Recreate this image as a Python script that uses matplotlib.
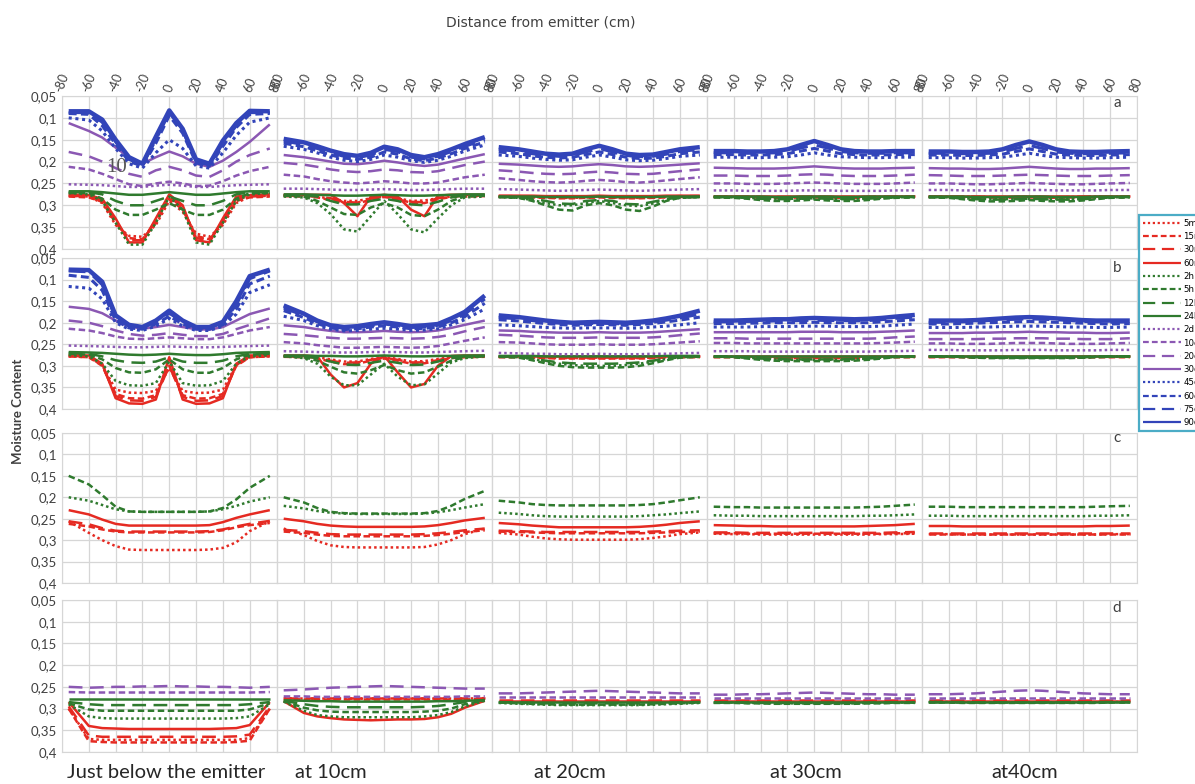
import matplotlib.pyplot as plt
from matplotlib.lines import Line2D

# positions along the profile (cm)
X = [-75, -60, -50, -40, -30, -20, -10, 0, 10, 20, 30, 40, 50, 60, 75]

LABELS = ["5min", "15min", "30min", "60min", "2h", "5h", "12h", "24h",
          "2d", "10d", "20d", "30d", "45d", "60d", "75d", "90d"]
GROUP_COLORS = ["#e52a22", "#2f7a2e", "#8b58b3", "#3244b9"]
DASHES = [(0, (1, 1.2)), (0, (2.6, 1.4)), (0, (5.5, 3)), "-"]

COLUMN_TITLES = ["Just below the emitter", "at 10cm", "at 20cm", "at 30cm", "at40cm"]
ROW_TAGS = ["a", "b", "c", "d"]
Y_TICKS = [0.05, 0.1, 0.15, 0.2, 0.25, 0.3, 0.35, 0.4]
Y_TICK_LABELS = ["0,05", "0,1", "0,15", "0,2", "0,25", "0,3", "0,35", "0,4"]
X_TICKS = [-80, -60, -40, -20, 0, 20, 40, 60, 80]

# ---- row a ----
a1 = {
    "5min":  [0.278, 0.280, 0.295, 0.345, 0.370, 0.372, 0.345, 0.290, 0.315, 0.365, 0.372, 0.345, 0.295, 0.280, 0.278],
    "15min": [0.280, 0.282, 0.292, 0.340, 0.375, 0.378, 0.340, 0.285, 0.310, 0.370, 0.378, 0.340, 0.290, 0.282, 0.280],
    "30min": [0.278, 0.280, 0.290, 0.335, 0.380, 0.380, 0.335, 0.280, 0.305, 0.375, 0.380, 0.335, 0.285, 0.280, 0.278],
    "60min": [0.275, 0.277, 0.285, 0.330, 0.385, 0.385, 0.330, 0.275, 0.300, 0.380, 0.385, 0.330, 0.280, 0.277, 0.275],
    "2h":    [0.272, 0.275, 0.290, 0.340, 0.390, 0.390, 0.340, 0.280, 0.310, 0.385, 0.390, 0.340, 0.290, 0.275, 0.272],
    "5h":    [0.272, 0.272, 0.285, 0.310, 0.322, 0.322, 0.310, 0.295, 0.310, 0.322, 0.322, 0.310, 0.285, 0.272, 0.272],
    "12h":   [0.270, 0.270, 0.275, 0.290, 0.300, 0.300, 0.290, 0.280, 0.290, 0.300, 0.300, 0.290, 0.275, 0.270, 0.270],
    "24h":   [0.268, 0.268, 0.270, 0.273, 0.276, 0.276, 0.273, 0.270, 0.273, 0.276, 0.276, 0.273, 0.270, 0.268, 0.268],
    "2d":    [0.252, 0.253, 0.254, 0.256, 0.258, 0.258, 0.255, 0.253, 0.255, 0.258, 0.258, 0.256, 0.254, 0.253, 0.252],
    "10d":   [0.212, 0.218, 0.228, 0.240, 0.252, 0.256, 0.250, 0.246, 0.250, 0.256, 0.255, 0.245, 0.232, 0.222, 0.212],
    "20d":   [0.178, 0.188, 0.200, 0.215, 0.228, 0.235, 0.220, 0.212, 0.220, 0.232, 0.235, 0.220, 0.200, 0.185, 0.170],
    "30d":   [0.112, 0.130, 0.145, 0.168, 0.190, 0.205, 0.190, 0.177, 0.188, 0.205, 0.212, 0.198, 0.178, 0.155, 0.115],
    "45d":   [0.100, 0.105, 0.130, 0.170, 0.205, 0.215, 0.180, 0.150, 0.170, 0.210, 0.215, 0.180, 0.140, 0.110, 0.100],
    "60d":   [0.090, 0.092, 0.118, 0.160, 0.200, 0.210, 0.158, 0.095, 0.135, 0.203, 0.210, 0.165, 0.122, 0.092, 0.090],
    "75d":   [0.088, 0.088, 0.110, 0.155, 0.195, 0.208, 0.150, 0.088, 0.128, 0.200, 0.208, 0.158, 0.118, 0.088, 0.088],
    "90d":   [0.085, 0.085, 0.104, 0.150, 0.190, 0.205, 0.143, 0.083, 0.125, 0.195, 0.205, 0.152, 0.112, 0.084, 0.085],
}

a2 = {
    "5min":  [0.277, 0.278, 0.280, 0.285, 0.290, 0.290, 0.284, 0.279, 0.284, 0.290, 0.289, 0.284, 0.280, 0.278, 0.277],
    "15min": [0.279, 0.280, 0.282, 0.288, 0.295, 0.296, 0.287, 0.281, 0.286, 0.294, 0.295, 0.286, 0.281, 0.280, 0.279],
    "30min": [0.278, 0.278, 0.280, 0.284, 0.292, 0.294, 0.285, 0.279, 0.284, 0.292, 0.293, 0.284, 0.279, 0.278, 0.278],
    "60min": [0.276, 0.276, 0.276, 0.276, 0.295, 0.325, 0.280, 0.276, 0.280, 0.310, 0.325, 0.278, 0.276, 0.276, 0.276],
    "2h":    [0.280, 0.282, 0.295, 0.320, 0.355, 0.360, 0.325, 0.290, 0.320, 0.355, 0.362, 0.330, 0.300, 0.282, 0.280],
    "5h":    [0.278, 0.280, 0.290, 0.305, 0.320, 0.322, 0.305, 0.295, 0.305, 0.322, 0.325, 0.310, 0.290, 0.280, 0.278],
    "12h":   [0.277, 0.277, 0.280, 0.290, 0.298, 0.298, 0.290, 0.285, 0.290, 0.298, 0.300, 0.292, 0.282, 0.277, 0.277],
    "24h":   [0.275, 0.275, 0.276, 0.277, 0.278, 0.278, 0.277, 0.276, 0.277, 0.278, 0.278, 0.277, 0.276, 0.275, 0.275],
    "2d":    [0.262, 0.262, 0.263, 0.264, 0.265, 0.265, 0.264, 0.263, 0.264, 0.265, 0.265, 0.264, 0.263, 0.262, 0.262],
    "10d":   [0.230, 0.234, 0.240, 0.245, 0.248, 0.250, 0.248, 0.245, 0.247, 0.250, 0.250, 0.248, 0.242, 0.236, 0.230],
    "20d":   [0.203, 0.207, 0.212, 0.218, 0.222, 0.224, 0.222, 0.218, 0.220, 0.224, 0.225, 0.222, 0.215, 0.208, 0.200],
    "30d":   [0.185, 0.190, 0.195, 0.200, 0.205, 0.206, 0.203, 0.198, 0.202, 0.207, 0.210, 0.207, 0.200, 0.193, 0.183],
    "45d":   [0.165, 0.172, 0.180, 0.190, 0.197, 0.200, 0.195, 0.185, 0.190, 0.198, 0.202, 0.197, 0.188, 0.176, 0.162],
    "60d":   [0.158, 0.166, 0.175, 0.185, 0.192, 0.195, 0.190, 0.178, 0.183, 0.194, 0.198, 0.192, 0.182, 0.170, 0.155],
    "75d":   [0.153, 0.161, 0.170, 0.180, 0.188, 0.191, 0.185, 0.172, 0.177, 0.190, 0.194, 0.188, 0.177, 0.165, 0.150],
    "90d":   [0.148, 0.156, 0.165, 0.175, 0.183, 0.187, 0.180, 0.166, 0.172, 0.185, 0.190, 0.183, 0.172, 0.160, 0.144],
}

a3 = {
    "5min":  [0.280, 0.280, 0.281, 0.282, 0.283, 0.283, 0.282, 0.281, 0.282, 0.283, 0.283, 0.282, 0.281, 0.280, 0.280],
    "15min": [0.281, 0.281, 0.282, 0.283, 0.284, 0.284, 0.283, 0.282, 0.283, 0.284, 0.284, 0.283, 0.282, 0.281, 0.281],
    "30min": [0.279, 0.279, 0.280, 0.281, 0.282, 0.282, 0.281, 0.280, 0.281, 0.282, 0.282, 0.281, 0.280, 0.279, 0.279],
    "60min": [0.278, 0.278, 0.278, 0.279, 0.279, 0.279, 0.279, 0.278, 0.279, 0.279, 0.279, 0.279, 0.278, 0.278, 0.278],
    "2h":    [0.281, 0.283, 0.288, 0.295, 0.300, 0.300, 0.295, 0.290, 0.295, 0.300, 0.302, 0.296, 0.288, 0.283, 0.281],
    "5h":    [0.281, 0.283, 0.290, 0.300, 0.310, 0.312, 0.300, 0.295, 0.300, 0.310, 0.313, 0.303, 0.290, 0.283, 0.281],
    "12h":   [0.281, 0.282, 0.285, 0.290, 0.296, 0.297, 0.290, 0.288, 0.290, 0.297, 0.298, 0.292, 0.286, 0.282, 0.281],
    "24h":   [0.280, 0.280, 0.280, 0.281, 0.281, 0.281, 0.281, 0.280, 0.281, 0.281, 0.281, 0.281, 0.280, 0.280, 0.280],
    "2d":    [0.263, 0.264, 0.265, 0.266, 0.267, 0.266, 0.265, 0.264, 0.265, 0.266, 0.267, 0.266, 0.265, 0.264, 0.263],
    "10d":   [0.238, 0.242, 0.245, 0.247, 0.248, 0.247, 0.244, 0.242, 0.244, 0.247, 0.248, 0.246, 0.243, 0.240, 0.236],
    "20d":   [0.220, 0.223, 0.226, 0.228, 0.229, 0.228, 0.225, 0.223, 0.225, 0.228, 0.229, 0.228, 0.225, 0.222, 0.218],
    "30d":   [0.205, 0.207, 0.209, 0.211, 0.212, 0.211, 0.208, 0.206, 0.208, 0.211, 0.212, 0.211, 0.209, 0.207, 0.204],
    "45d":   [0.185, 0.188, 0.192, 0.195, 0.197, 0.196, 0.190, 0.185, 0.190, 0.196, 0.198, 0.197, 0.193, 0.188, 0.185],
    "60d":   [0.178, 0.182, 0.187, 0.190, 0.192, 0.190, 0.184, 0.178, 0.184, 0.190, 0.193, 0.192, 0.188, 0.182, 0.178],
    "75d":   [0.172, 0.177, 0.182, 0.186, 0.188, 0.186, 0.178, 0.170, 0.178, 0.186, 0.189, 0.188, 0.183, 0.177, 0.172],
    "90d":   [0.167, 0.172, 0.177, 0.182, 0.184, 0.182, 0.172, 0.164, 0.172, 0.182, 0.185, 0.184, 0.178, 0.172, 0.167],
}

a4 = {
    "5min":  [0.280, 0.280, 0.281, 0.281, 0.282, 0.282, 0.281, 0.281, 0.281, 0.282, 0.282, 0.281, 0.281, 0.280, 0.280],
    "15min": [0.281, 0.281, 0.282, 0.282, 0.283, 0.283, 0.282, 0.282, 0.282, 0.283, 0.283, 0.282, 0.282, 0.281, 0.281],
    "30min": [0.280, 0.280, 0.280, 0.281, 0.281, 0.281, 0.281, 0.280, 0.281, 0.281, 0.281, 0.281, 0.280, 0.280, 0.280],
    "60min": [0.279, 0.279, 0.279, 0.279, 0.279, 0.279, 0.279, 0.279, 0.279, 0.279, 0.279, 0.279, 0.279, 0.279, 0.279],
    "2h":    [0.281, 0.282, 0.283, 0.284, 0.285, 0.285, 0.285, 0.284, 0.285, 0.285, 0.285, 0.284, 0.283, 0.282, 0.281],
    "5h":    [0.282, 0.283, 0.285, 0.288, 0.290, 0.290, 0.289, 0.287, 0.289, 0.290, 0.290, 0.288, 0.285, 0.283, 0.282],
    "12h":   [0.281, 0.282, 0.283, 0.285, 0.286, 0.286, 0.285, 0.284, 0.285, 0.286, 0.286, 0.285, 0.283, 0.282, 0.281],
    "24h":   [0.280, 0.280, 0.280, 0.280, 0.281, 0.281, 0.280, 0.280, 0.280, 0.281, 0.281, 0.280, 0.280, 0.280, 0.280],
    "2d":    [0.266, 0.266, 0.267, 0.267, 0.267, 0.267, 0.266, 0.266, 0.266, 0.267, 0.267, 0.267, 0.267, 0.266, 0.266],
    "10d":   [0.250, 0.250, 0.251, 0.251, 0.251, 0.250, 0.249, 0.248, 0.249, 0.250, 0.251, 0.251, 0.251, 0.250, 0.248],
    "20d":   [0.232, 0.232, 0.233, 0.233, 0.233, 0.232, 0.230, 0.229, 0.230, 0.232, 0.233, 0.233, 0.233, 0.232, 0.230],
    "30d":   [0.214, 0.215, 0.216, 0.216, 0.216, 0.215, 0.213, 0.211, 0.213, 0.215, 0.216, 0.216, 0.216, 0.215, 0.214],
    "45d":   [0.190, 0.190, 0.191, 0.191, 0.190, 0.189, 0.185, 0.180, 0.185, 0.189, 0.190, 0.191, 0.191, 0.190, 0.190],
    "60d":   [0.184, 0.184, 0.185, 0.185, 0.184, 0.182, 0.176, 0.170, 0.176, 0.182, 0.184, 0.185, 0.185, 0.184, 0.184],
    "75d":   [0.180, 0.180, 0.181, 0.181, 0.180, 0.177, 0.169, 0.162, 0.169, 0.177, 0.180, 0.181, 0.181, 0.180, 0.180],
    "90d":   [0.176, 0.176, 0.177, 0.177, 0.176, 0.172, 0.162, 0.153, 0.162, 0.172, 0.176, 0.177, 0.177, 0.176, 0.176],
}

a5 = {
    "5min":  [0.280, 0.280, 0.280, 0.281, 0.281, 0.282, 0.281, 0.281, 0.281, 0.282, 0.281, 0.281, 0.280, 0.280, 0.280],
    "15min": [0.281, 0.281, 0.282, 0.282, 0.282, 0.283, 0.282, 0.282, 0.282, 0.283, 0.282, 0.282, 0.282, 0.281, 0.281],
    "30min": [0.280, 0.280, 0.280, 0.280, 0.281, 0.281, 0.281, 0.280, 0.281, 0.281, 0.281, 0.280, 0.280, 0.280, 0.280],
    "60min": [0.279, 0.279, 0.279, 0.279, 0.279, 0.279, 0.279, 0.279, 0.279, 0.279, 0.279, 0.279, 0.279, 0.279, 0.279],
    "2h":    [0.281, 0.282, 0.284, 0.285, 0.286, 0.286, 0.286, 0.285, 0.286, 0.286, 0.286, 0.285, 0.284, 0.282, 0.281],
    "5h":    [0.282, 0.283, 0.286, 0.289, 0.291, 0.291, 0.290, 0.288, 0.290, 0.291, 0.291, 0.289, 0.286, 0.283, 0.282],
    "12h":   [0.281, 0.282, 0.284, 0.286, 0.287, 0.287, 0.286, 0.285, 0.286, 0.287, 0.287, 0.286, 0.284, 0.282, 0.281],
    "24h":   [0.280, 0.280, 0.280, 0.281, 0.281, 0.281, 0.280, 0.280, 0.280, 0.281, 0.281, 0.281, 0.280, 0.280, 0.280],
    "2d":    [0.265, 0.265, 0.266, 0.266, 0.266, 0.266, 0.265, 0.265, 0.265, 0.266, 0.266, 0.266, 0.266, 0.265, 0.265],
    "10d":   [0.250, 0.250, 0.251, 0.252, 0.252, 0.251, 0.250, 0.249, 0.250, 0.251, 0.252, 0.252, 0.251, 0.250, 0.249],
    "20d":   [0.231, 0.232, 0.233, 0.233, 0.233, 0.232, 0.231, 0.230, 0.231, 0.232, 0.233, 0.233, 0.233, 0.232, 0.231],
    "30d":   [0.215, 0.216, 0.216, 0.217, 0.217, 0.216, 0.214, 0.212, 0.214, 0.216, 0.217, 0.217, 0.216, 0.216, 0.215],
    "45d":   [0.191, 0.191, 0.192, 0.192, 0.191, 0.190, 0.186, 0.181, 0.186, 0.190, 0.191, 0.192, 0.192, 0.191, 0.190],
    "60d":   [0.185, 0.185, 0.186, 0.186, 0.185, 0.183, 0.177, 0.171, 0.177, 0.183, 0.185, 0.186, 0.186, 0.185, 0.184],
    "75d":   [0.181, 0.181, 0.182, 0.182, 0.181, 0.178, 0.170, 0.163, 0.170, 0.178, 0.181, 0.182, 0.182, 0.181, 0.180],
    "90d":   [0.177, 0.177, 0.178, 0.178, 0.177, 0.172, 0.162, 0.154, 0.162, 0.172, 0.177, 0.178, 0.178, 0.177, 0.176],
}

# ---- row b ----
b1 = {
    "5min":  [0.278, 0.280, 0.298, 0.355, 0.362, 0.363, 0.358, 0.305, 0.358, 0.363, 0.362, 0.355, 0.298, 0.280, 0.278],
    "15min": [0.278, 0.280, 0.300, 0.365, 0.375, 0.376, 0.368, 0.300, 0.368, 0.376, 0.375, 0.365, 0.300, 0.280, 0.278],
    "30min": [0.277, 0.278, 0.298, 0.370, 0.380, 0.381, 0.372, 0.300, 0.372, 0.381, 0.380, 0.370, 0.298, 0.278, 0.277],
    "60min": [0.275, 0.276, 0.295, 0.375, 0.387, 0.388, 0.378, 0.280, 0.378, 0.388, 0.387, 0.375, 0.295, 0.276, 0.275],
    "2h":    [0.275, 0.278, 0.295, 0.335, 0.345, 0.346, 0.340, 0.290, 0.340, 0.346, 0.345, 0.335, 0.295, 0.278, 0.275],
    "5h":    [0.272, 0.274, 0.285, 0.305, 0.315, 0.316, 0.308, 0.285, 0.308, 0.316, 0.316, 0.305, 0.285, 0.274, 0.272],
    "12h":   [0.270, 0.272, 0.278, 0.287, 0.292, 0.293, 0.290, 0.280, 0.290, 0.293, 0.293, 0.288, 0.278, 0.272, 0.270],
    "24h":   [0.268, 0.269, 0.270, 0.272, 0.274, 0.275, 0.274, 0.272, 0.274, 0.275, 0.275, 0.273, 0.270, 0.269, 0.268],
    "2d":    [0.253, 0.254, 0.255, 0.256, 0.257, 0.257, 0.256, 0.255, 0.256, 0.257, 0.257, 0.256, 0.255, 0.254, 0.253],
    "10d":   [0.214, 0.218, 0.224, 0.232, 0.237, 0.238, 0.236, 0.234, 0.236, 0.238, 0.238, 0.234, 0.226, 0.218, 0.210],
    "20d":   [0.195, 0.200, 0.208, 0.218, 0.226, 0.230, 0.228, 0.224, 0.228, 0.231, 0.231, 0.226, 0.215, 0.205, 0.190],
    "30d":   [0.163, 0.168, 0.178, 0.195, 0.208, 0.214, 0.210, 0.205, 0.210, 0.215, 0.216, 0.210, 0.195, 0.180, 0.167],
    "45d":   [0.116, 0.120, 0.145, 0.200, 0.215, 0.218, 0.208, 0.190, 0.208, 0.218, 0.218, 0.208, 0.180, 0.130, 0.112],
    "60d":   [0.090, 0.095, 0.125, 0.195, 0.212, 0.215, 0.203, 0.185, 0.203, 0.215, 0.215, 0.205, 0.168, 0.110, 0.092],
    "75d":   [0.080, 0.082, 0.112, 0.190, 0.208, 0.212, 0.198, 0.178, 0.198, 0.212, 0.212, 0.200, 0.158, 0.098, 0.080],
    "90d":   [0.077, 0.078, 0.105, 0.183, 0.205, 0.210, 0.195, 0.172, 0.195, 0.210, 0.210, 0.198, 0.150, 0.092, 0.077],
}

b2 = {
    "5min":  [0.277, 0.278, 0.280, 0.285, 0.290, 0.290, 0.284, 0.279, 0.284, 0.290, 0.289, 0.284, 0.280, 0.278, 0.277],
    "15min": [0.279, 0.280, 0.283, 0.290, 0.296, 0.295, 0.288, 0.283, 0.288, 0.295, 0.294, 0.288, 0.282, 0.280, 0.279],
    "30min": [0.278, 0.279, 0.281, 0.288, 0.293, 0.292, 0.286, 0.281, 0.286, 0.292, 0.292, 0.287, 0.280, 0.279, 0.278],
    "60min": [0.276, 0.276, 0.278, 0.320, 0.350, 0.340, 0.295, 0.277, 0.315, 0.350, 0.342, 0.300, 0.277, 0.276, 0.276],
    "2h":    [0.278, 0.282, 0.295, 0.325, 0.345, 0.345, 0.320, 0.295, 0.325, 0.345, 0.343, 0.318, 0.292, 0.282, 0.278],
    "5h":    [0.278, 0.280, 0.288, 0.302, 0.315, 0.318, 0.310, 0.298, 0.310, 0.318, 0.315, 0.302, 0.288, 0.280, 0.278],
    "12h":   [0.277, 0.278, 0.282, 0.290, 0.297, 0.298, 0.293, 0.288, 0.293, 0.298, 0.297, 0.290, 0.282, 0.278, 0.277],
    "24h":   [0.276, 0.276, 0.277, 0.277, 0.278, 0.278, 0.277, 0.276, 0.277, 0.278, 0.278, 0.277, 0.277, 0.276, 0.276],
    "2d":    [0.266, 0.267, 0.268, 0.269, 0.269, 0.269, 0.268, 0.268, 0.268, 0.269, 0.269, 0.268, 0.267, 0.266, 0.265],
    "10d":   [0.245, 0.248, 0.252, 0.255, 0.258, 0.258, 0.257, 0.256, 0.257, 0.258, 0.257, 0.254, 0.248, 0.242, 0.234],
    "20d":   [0.226, 0.229, 0.232, 0.235, 0.237, 0.237, 0.236, 0.235, 0.236, 0.237, 0.236, 0.233, 0.228, 0.220, 0.210],
    "30d":   [0.206, 0.210, 0.215, 0.219, 0.222, 0.222, 0.221, 0.219, 0.221, 0.222, 0.221, 0.218, 0.212, 0.205, 0.195],
    "45d":   [0.185, 0.195, 0.207, 0.215, 0.219, 0.218, 0.215, 0.213, 0.215, 0.218, 0.217, 0.214, 0.205, 0.193, 0.168],
    "60d":   [0.172, 0.188, 0.202, 0.212, 0.216, 0.214, 0.210, 0.207, 0.210, 0.214, 0.213, 0.210, 0.200, 0.186, 0.155],
    "75d":   [0.166, 0.183, 0.198, 0.209, 0.213, 0.211, 0.207, 0.203, 0.207, 0.211, 0.210, 0.206, 0.195, 0.180, 0.145],
    "90d":   [0.160, 0.179, 0.195, 0.206, 0.210, 0.208, 0.203, 0.199, 0.203, 0.208, 0.206, 0.203, 0.190, 0.175, 0.137],
}

b3 = {
    "5min":  [0.279, 0.279, 0.280, 0.281, 0.282, 0.282, 0.282, 0.282, 0.282, 0.282, 0.282, 0.281, 0.280, 0.279, 0.279],
    "15min": [0.280, 0.280, 0.281, 0.282, 0.283, 0.283, 0.283, 0.283, 0.283, 0.283, 0.283, 0.282, 0.281, 0.280, 0.280],
    "30min": [0.279, 0.279, 0.280, 0.280, 0.281, 0.281, 0.281, 0.281, 0.281, 0.281, 0.281, 0.280, 0.280, 0.279, 0.279],
    "60min": [0.278, 0.278, 0.278, 0.278, 0.278, 0.278, 0.278, 0.278, 0.278, 0.278, 0.278, 0.278, 0.278, 0.278, 0.278],
    "2h":    [0.278, 0.280, 0.284, 0.290, 0.295, 0.298, 0.300, 0.300, 0.300, 0.298, 0.295, 0.290, 0.284, 0.280, 0.278],
    "5h":    [0.279, 0.281, 0.287, 0.294, 0.300, 0.303, 0.304, 0.304, 0.304, 0.303, 0.300, 0.294, 0.287, 0.281, 0.279],
    "12h":   [0.278, 0.279, 0.283, 0.288, 0.292, 0.294, 0.295, 0.295, 0.295, 0.294, 0.292, 0.288, 0.283, 0.279, 0.278],
    "24h":   [0.277, 0.277, 0.277, 0.278, 0.278, 0.278, 0.278, 0.278, 0.278, 0.278, 0.278, 0.278, 0.277, 0.277, 0.277],
    "2d":    [0.270, 0.271, 0.272, 0.272, 0.273, 0.273, 0.273, 0.272, 0.273, 0.273, 0.273, 0.272, 0.272, 0.271, 0.270],
    "10d":   [0.245, 0.246, 0.248, 0.250, 0.251, 0.251, 0.251, 0.250, 0.251, 0.251, 0.251, 0.250, 0.248, 0.246, 0.243],
    "20d":   [0.228, 0.230, 0.232, 0.234, 0.235, 0.235, 0.235, 0.234, 0.235, 0.235, 0.235, 0.234, 0.232, 0.229, 0.225],
    "30d":   [0.218, 0.219, 0.221, 0.222, 0.223, 0.223, 0.223, 0.222, 0.223, 0.223, 0.223, 0.222, 0.220, 0.218, 0.215],
    "45d":   [0.205, 0.207, 0.209, 0.211, 0.212, 0.213, 0.212, 0.212, 0.212, 0.213, 0.212, 0.210, 0.208, 0.205, 0.200],
    "60d":   [0.193, 0.196, 0.199, 0.202, 0.204, 0.206, 0.205, 0.204, 0.205, 0.206, 0.204, 0.202, 0.198, 0.194, 0.187],
    "75d":   [0.188, 0.191, 0.195, 0.199, 0.201, 0.203, 0.202, 0.201, 0.202, 0.203, 0.201, 0.199, 0.194, 0.189, 0.180],
    "90d":   [0.183, 0.187, 0.191, 0.195, 0.198, 0.200, 0.199, 0.198, 0.199, 0.200, 0.198, 0.195, 0.190, 0.184, 0.172],
}

b4 = {
    "5min":  [0.279, 0.279, 0.280, 0.280, 0.281, 0.281, 0.281, 0.281, 0.281, 0.281, 0.281, 0.280, 0.280, 0.279, 0.279],
    "15min": [0.280, 0.280, 0.281, 0.281, 0.282, 0.282, 0.282, 0.282, 0.282, 0.282, 0.282, 0.281, 0.281, 0.280, 0.280],
    "30min": [0.279, 0.279, 0.279, 0.280, 0.280, 0.280, 0.280, 0.280, 0.280, 0.280, 0.280, 0.280, 0.279, 0.279, 0.279],
    "60min": [0.278, 0.278, 0.278, 0.278, 0.278, 0.278, 0.278, 0.278, 0.278, 0.278, 0.278, 0.278, 0.278, 0.278, 0.278],
    "2h":    [0.278, 0.279, 0.281, 0.283, 0.285, 0.286, 0.286, 0.286, 0.286, 0.286, 0.285, 0.283, 0.281, 0.279, 0.278],
    "5h":    [0.279, 0.280, 0.283, 0.286, 0.288, 0.289, 0.289, 0.289, 0.289, 0.289, 0.288, 0.286, 0.283, 0.280, 0.279],
    "12h":   [0.278, 0.279, 0.281, 0.283, 0.284, 0.285, 0.285, 0.285, 0.285, 0.285, 0.284, 0.283, 0.281, 0.279, 0.278],
    "24h":   [0.277, 0.277, 0.277, 0.277, 0.277, 0.277, 0.277, 0.277, 0.277, 0.277, 0.277, 0.277, 0.277, 0.277, 0.277],
    "2d":    [0.266, 0.266, 0.266, 0.267, 0.267, 0.267, 0.267, 0.267, 0.267, 0.267, 0.267, 0.267, 0.266, 0.266, 0.265],
    "10d":   [0.247, 0.247, 0.248, 0.248, 0.248, 0.248, 0.248, 0.248, 0.248, 0.248, 0.248, 0.248, 0.247, 0.246, 0.244],
    "20d":   [0.236, 0.236, 0.237, 0.237, 0.237, 0.237, 0.237, 0.237, 0.237, 0.237, 0.237, 0.237, 0.236, 0.234, 0.232],
    "30d":   [0.222, 0.222, 0.222, 0.222, 0.222, 0.222, 0.221, 0.221, 0.221, 0.222, 0.222, 0.222, 0.221, 0.220, 0.218],
    "45d":   [0.210, 0.210, 0.210, 0.209, 0.209, 0.209, 0.208, 0.208, 0.208, 0.209, 0.209, 0.209, 0.208, 0.206, 0.203],
    "60d":   [0.202, 0.202, 0.201, 0.201, 0.200, 0.200, 0.200, 0.199, 0.200, 0.200, 0.200, 0.200, 0.198, 0.196, 0.193],
    "75d":   [0.198, 0.198, 0.197, 0.197, 0.196, 0.196, 0.195, 0.194, 0.195, 0.195, 0.196, 0.195, 0.193, 0.190, 0.187],
    "90d":   [0.195, 0.195, 0.194, 0.193, 0.192, 0.192, 0.190, 0.189, 0.190, 0.191, 0.192, 0.191, 0.189, 0.186, 0.182],
}

b5 = {
    "5min":  [0.279, 0.279, 0.279, 0.280, 0.280, 0.280, 0.280, 0.280, 0.280, 0.280, 0.280, 0.280, 0.279, 0.279, 0.279],
    "15min": [0.280, 0.280, 0.280, 0.281, 0.281, 0.281, 0.281, 0.281, 0.281, 0.281, 0.281, 0.281, 0.280, 0.280, 0.280],
    "30min": [0.279, 0.279, 0.279, 0.279, 0.280, 0.280, 0.280, 0.280, 0.280, 0.280, 0.280, 0.279, 0.279, 0.279, 0.279],
    "60min": [0.278, 0.278, 0.278, 0.278, 0.278, 0.278, 0.278, 0.278, 0.278, 0.278, 0.278, 0.278, 0.278, 0.278, 0.278],
    "2h":    [0.278, 0.278, 0.279, 0.280, 0.281, 0.281, 0.281, 0.281, 0.281, 0.281, 0.281, 0.280, 0.279, 0.278, 0.278],
    "5h":    [0.278, 0.279, 0.280, 0.281, 0.282, 0.282, 0.282, 0.282, 0.282, 0.282, 0.282, 0.281, 0.280, 0.279, 0.278],
    "12h":   [0.278, 0.278, 0.279, 0.280, 0.280, 0.281, 0.281, 0.281, 0.281, 0.281, 0.280, 0.280, 0.279, 0.278, 0.278],
    "24h":   [0.277, 0.277, 0.277, 0.277, 0.277, 0.277, 0.277, 0.277, 0.277, 0.277, 0.277, 0.277, 0.277, 0.277, 0.277],
    "2d":    [0.263, 0.263, 0.264, 0.264, 0.264, 0.264, 0.263, 0.263, 0.263, 0.264, 0.264, 0.264, 0.264, 0.263, 0.263],
    "10d":   [0.248, 0.248, 0.249, 0.249, 0.249, 0.248, 0.247, 0.247, 0.247, 0.248, 0.249, 0.249, 0.249, 0.248, 0.247],
    "20d":   [0.238, 0.238, 0.238, 0.238, 0.237, 0.237, 0.236, 0.236, 0.236, 0.237, 0.237, 0.238, 0.238, 0.238, 0.236],
    "30d":   [0.224, 0.224, 0.224, 0.223, 0.223, 0.222, 0.222, 0.221, 0.222, 0.222, 0.223, 0.223, 0.224, 0.224, 0.223],
    "45d":   [0.211, 0.211, 0.211, 0.210, 0.210, 0.209, 0.208, 0.208, 0.208, 0.209, 0.210, 0.210, 0.211, 0.211, 0.210],
    "60d":   [0.203, 0.203, 0.202, 0.201, 0.200, 0.199, 0.198, 0.197, 0.198, 0.199, 0.200, 0.201, 0.202, 0.203, 0.202],
    "75d":   [0.199, 0.199, 0.198, 0.197, 0.195, 0.193, 0.192, 0.191, 0.192, 0.193, 0.195, 0.197, 0.198, 0.199, 0.198],
    "90d":   [0.195, 0.195, 0.195, 0.194, 0.192, 0.190, 0.188, 0.187, 0.188, 0.190, 0.192, 0.194, 0.195, 0.195, 0.195],
}

# ---- row c ----
c1 = {
    "5min":  [0.256, 0.283, 0.300, 0.314, 0.322, 0.323, 0.323, 0.323, 0.323, 0.323, 0.322, 0.318, 0.305, 0.279, 0.256],
    "15min": [0.262, 0.268, 0.275, 0.280, 0.282, 0.282, 0.282, 0.282, 0.282, 0.282, 0.281, 0.277, 0.270, 0.265, 0.260],
    "30min": [0.256, 0.263, 0.272, 0.278, 0.280, 0.280, 0.280, 0.280, 0.280, 0.280, 0.279, 0.275, 0.268, 0.262, 0.255],
    "60min": [0.230, 0.240, 0.252, 0.262, 0.266, 0.266, 0.266, 0.266, 0.266, 0.266, 0.265, 0.258, 0.248, 0.240, 0.230],
    "2h":    [0.200, 0.208, 0.218, 0.228, 0.233, 0.234, 0.234, 0.234, 0.234, 0.234, 0.233, 0.228, 0.220, 0.210, 0.200],
    "5h":    [0.150, 0.170, 0.195, 0.222, 0.233, 0.234, 0.234, 0.234, 0.234, 0.234, 0.233, 0.225, 0.205, 0.178, 0.150],
}

c2 = {
    "5min":  [0.273, 0.288, 0.302, 0.312, 0.316, 0.317, 0.317, 0.317, 0.317, 0.317, 0.316, 0.310, 0.300, 0.286, 0.273],
    "15min": [0.280, 0.283, 0.287, 0.290, 0.291, 0.291, 0.291, 0.291, 0.291, 0.291, 0.290, 0.288, 0.285, 0.281, 0.277],
    "30min": [0.276, 0.279, 0.283, 0.286, 0.287, 0.287, 0.287, 0.287, 0.287, 0.287, 0.286, 0.284, 0.281, 0.277, 0.273],
    "60min": [0.250, 0.256, 0.262, 0.266, 0.268, 0.269, 0.269, 0.269, 0.269, 0.269, 0.268, 0.265, 0.260, 0.254, 0.248],
    "2h":    [0.220, 0.226, 0.232, 0.236, 0.238, 0.239, 0.239, 0.239, 0.239, 0.239, 0.238, 0.235, 0.230, 0.224, 0.216],
    "5h":    [0.200, 0.212, 0.225, 0.234, 0.237, 0.238, 0.238, 0.238, 0.238, 0.238, 0.237, 0.232, 0.220, 0.204, 0.185],
}

c3 = {
    "5min":  [0.283, 0.287, 0.292, 0.296, 0.298, 0.299, 0.299, 0.299, 0.299, 0.299, 0.298, 0.295, 0.291, 0.286, 0.282],
    "15min": [0.280, 0.281, 0.282, 0.283, 0.284, 0.284, 0.284, 0.284, 0.284, 0.284, 0.284, 0.283, 0.282, 0.281, 0.280],
    "30min": [0.278, 0.279, 0.280, 0.281, 0.281, 0.281, 0.281, 0.281, 0.281, 0.281, 0.281, 0.280, 0.279, 0.278, 0.277],
    "60min": [0.260, 0.263, 0.266, 0.268, 0.270, 0.270, 0.270, 0.270, 0.270, 0.270, 0.269, 0.267, 0.264, 0.260, 0.256],
    "2h":    [0.236, 0.239, 0.242, 0.244, 0.245, 0.245, 0.245, 0.245, 0.245, 0.245, 0.244, 0.242, 0.240, 0.237, 0.233],
    "5h":    [0.208, 0.212, 0.216, 0.218, 0.219, 0.219, 0.219, 0.219, 0.219, 0.219, 0.218, 0.216, 0.212, 0.207, 0.200],
}

c4 = {
    "5min":  [0.285, 0.286, 0.286, 0.287, 0.287, 0.287, 0.287, 0.287, 0.287, 0.287, 0.287, 0.287, 0.286, 0.286, 0.285],
    "15min": [0.284, 0.284, 0.285, 0.285, 0.285, 0.285, 0.285, 0.285, 0.285, 0.285, 0.285, 0.285, 0.285, 0.284, 0.284],
    "30min": [0.282, 0.282, 0.283, 0.283, 0.283, 0.283, 0.283, 0.283, 0.283, 0.283, 0.283, 0.283, 0.283, 0.282, 0.281],
    "60min": [0.265, 0.266, 0.267, 0.267, 0.268, 0.268, 0.268, 0.268, 0.268, 0.268, 0.268, 0.267, 0.266, 0.265, 0.262],
    "2h":    [0.242, 0.243, 0.243, 0.244, 0.244, 0.244, 0.244, 0.244, 0.244, 0.244, 0.244, 0.243, 0.243, 0.242, 0.240],
    "5h":    [0.222, 0.223, 0.223, 0.224, 0.224, 0.224, 0.224, 0.224, 0.224, 0.224, 0.224, 0.223, 0.222, 0.220, 0.217],
}

c5 = {
    "5min":  [0.286, 0.286, 0.287, 0.287, 0.287, 0.287, 0.287, 0.287, 0.287, 0.287, 0.287, 0.287, 0.287, 0.286, 0.286],
    "15min": [0.285, 0.285, 0.285, 0.285, 0.285, 0.285, 0.285, 0.285, 0.285, 0.285, 0.285, 0.285, 0.285, 0.285, 0.285],
    "30min": [0.283, 0.283, 0.283, 0.283, 0.283, 0.283, 0.283, 0.283, 0.283, 0.283, 0.283, 0.283, 0.283, 0.283, 0.283],
    "60min": [0.267, 0.267, 0.268, 0.268, 0.268, 0.268, 0.268, 0.268, 0.268, 0.268, 0.268, 0.268, 0.267, 0.267, 0.266],
    "2h":    [0.243, 0.243, 0.244, 0.244, 0.244, 0.244, 0.244, 0.244, 0.244, 0.244, 0.244, 0.244, 0.243, 0.243, 0.242],
    "5h":    [0.222, 0.222, 0.223, 0.223, 0.223, 0.223, 0.223, 0.223, 0.223, 0.223, 0.223, 0.223, 0.222, 0.221, 0.220],
}

# ---- row d ----
d1 = {
    "5min":  [0.300, 0.370, 0.372, 0.372, 0.372, 0.372, 0.372, 0.372, 0.372, 0.372, 0.372, 0.372, 0.372, 0.368, 0.300],
    "15min": [0.300, 0.375, 0.377, 0.378, 0.378, 0.378, 0.378, 0.378, 0.378, 0.378, 0.378, 0.378, 0.377, 0.374, 0.300],
    "30min": [0.295, 0.362, 0.365, 0.365, 0.365, 0.365, 0.365, 0.365, 0.365, 0.365, 0.365, 0.365, 0.364, 0.360, 0.295],
    "60min": [0.285, 0.340, 0.345, 0.346, 0.347, 0.347, 0.347, 0.347, 0.347, 0.347, 0.347, 0.346, 0.345, 0.338, 0.285],
    "2h":    [0.290, 0.318, 0.322, 0.323, 0.323, 0.323, 0.323, 0.323, 0.323, 0.323, 0.323, 0.323, 0.322, 0.318, 0.290],
    "5h":    [0.288, 0.302, 0.305, 0.305, 0.305, 0.305, 0.305, 0.305, 0.305, 0.305, 0.305, 0.305, 0.305, 0.302, 0.288],
    "12h":   [0.285, 0.290, 0.292, 0.292, 0.292, 0.292, 0.292, 0.292, 0.292, 0.292, 0.292, 0.292, 0.292, 0.290, 0.285],
    "24h":   [0.277, 0.277, 0.277, 0.277, 0.277, 0.277, 0.277, 0.277, 0.277, 0.277, 0.277, 0.277, 0.277, 0.277, 0.277],
    "10d":   [0.262, 0.263, 0.263, 0.263, 0.263, 0.263, 0.263, 0.263, 0.263, 0.263, 0.263, 0.263, 0.263, 0.263, 0.262],
    "20d":   [0.250, 0.252, 0.251, 0.250, 0.250, 0.249, 0.249, 0.248, 0.249, 0.249, 0.250, 0.250, 0.251, 0.252, 0.250],
}

d2 = {
    "5min":  [0.276, 0.277, 0.277, 0.277, 0.277, 0.277, 0.277, 0.277, 0.277, 0.277, 0.277, 0.277, 0.277, 0.277, 0.276],
    "15min": [0.278, 0.279, 0.279, 0.279, 0.279, 0.279, 0.279, 0.279, 0.279, 0.279, 0.279, 0.279, 0.279, 0.279, 0.278],
    "30min": [0.275, 0.275, 0.275, 0.275, 0.275, 0.275, 0.275, 0.275, 0.275, 0.275, 0.275, 0.275, 0.275, 0.275, 0.275],
    "60min": [0.283, 0.310, 0.318, 0.322, 0.325, 0.326, 0.327, 0.326, 0.325, 0.325, 0.324, 0.320, 0.312, 0.298, 0.282],
    "2h":    [0.284, 0.305, 0.315, 0.318, 0.320, 0.320, 0.320, 0.320, 0.320, 0.320, 0.318, 0.315, 0.308, 0.295, 0.282],
    "5h":    [0.283, 0.298, 0.304, 0.307, 0.308, 0.308, 0.308, 0.308, 0.308, 0.308, 0.307, 0.305, 0.300, 0.290, 0.281],
    "12h":   [0.282, 0.290, 0.294, 0.296, 0.297, 0.297, 0.297, 0.297, 0.297, 0.297, 0.296, 0.294, 0.290, 0.285, 0.280],
    "24h":   [0.281, 0.282, 0.283, 0.283, 0.284, 0.284, 0.284, 0.284, 0.284, 0.284, 0.284, 0.283, 0.283, 0.282, 0.281],
    "10d":   [0.272, 0.272, 0.273, 0.273, 0.273, 0.273, 0.273, 0.273, 0.273, 0.273, 0.273, 0.273, 0.273, 0.272, 0.272],
    "20d":   [0.258, 0.256, 0.254, 0.252, 0.251, 0.250, 0.249, 0.248, 0.249, 0.250, 0.251, 0.252, 0.253, 0.254, 0.254],
}

d3 = {
    "30min": [0.280, 0.280, 0.280, 0.280, 0.280, 0.280, 0.280, 0.280, 0.280, 0.280, 0.280, 0.280, 0.280, 0.280, 0.280],
    "60min": [0.282, 0.282, 0.282, 0.282, 0.282, 0.282, 0.282, 0.282, 0.282, 0.282, 0.282, 0.282, 0.282, 0.282, 0.282],
    "2h":    [0.287, 0.289, 0.290, 0.291, 0.292, 0.292, 0.292, 0.292, 0.292, 0.292, 0.292, 0.291, 0.290, 0.289, 0.287],
    "5h":    [0.286, 0.288, 0.289, 0.290, 0.291, 0.291, 0.291, 0.291, 0.291, 0.291, 0.291, 0.290, 0.289, 0.288, 0.286],
    "12h":   [0.285, 0.286, 0.287, 0.288, 0.288, 0.288, 0.288, 0.288, 0.288, 0.288, 0.288, 0.288, 0.287, 0.286, 0.285],
    "24h":   [0.284, 0.284, 0.284, 0.284, 0.284, 0.284, 0.284, 0.284, 0.284, 0.284, 0.284, 0.284, 0.284, 0.284, 0.284],
    "10d":   [0.274, 0.274, 0.274, 0.274, 0.274, 0.274, 0.274, 0.274, 0.274, 0.274, 0.274, 0.274, 0.274, 0.274, 0.274],
    "20d":   [0.265, 0.265, 0.264, 0.263, 0.262, 0.261, 0.260, 0.259, 0.260, 0.261, 0.262, 0.263, 0.264, 0.265, 0.265],
}

d4 = {
    "30min": [0.281, 0.281, 0.281, 0.281, 0.281, 0.281, 0.281, 0.281, 0.281, 0.281, 0.281, 0.281, 0.281, 0.281, 0.281],
    "60min": [0.283, 0.283, 0.283, 0.283, 0.283, 0.283, 0.283, 0.283, 0.283, 0.283, 0.283, 0.283, 0.283, 0.283, 0.283],
    "2h":    [0.286, 0.286, 0.287, 0.287, 0.288, 0.288, 0.288, 0.288, 0.288, 0.288, 0.288, 0.287, 0.287, 0.286, 0.286],
    "5h":    [0.287, 0.287, 0.288, 0.288, 0.289, 0.289, 0.289, 0.289, 0.289, 0.289, 0.289, 0.288, 0.288, 0.287, 0.287],
    "12h":   [0.286, 0.286, 0.286, 0.287, 0.287, 0.287, 0.287, 0.287, 0.287, 0.287, 0.287, 0.287, 0.286, 0.286, 0.286],
    "24h":   [0.285, 0.285, 0.285, 0.285, 0.285, 0.285, 0.285, 0.285, 0.285, 0.285, 0.285, 0.285, 0.285, 0.285, 0.285],
    "10d":   [0.276, 0.276, 0.276, 0.276, 0.276, 0.276, 0.276, 0.276, 0.276, 0.276, 0.276, 0.276, 0.276, 0.276, 0.276],
    "20d":   [0.268, 0.268, 0.267, 0.267, 0.266, 0.265, 0.264, 0.263, 0.264, 0.265, 0.266, 0.267, 0.267, 0.268, 0.268],
}

d5 = {
    "30min": [0.281, 0.281, 0.281, 0.281, 0.281, 0.281, 0.281, 0.281, 0.281, 0.281, 0.281, 0.281, 0.281, 0.281, 0.281],
    "60min": [0.283, 0.283, 0.283, 0.283, 0.283, 0.283, 0.283, 0.283, 0.283, 0.283, 0.283, 0.283, 0.283, 0.283, 0.283],
    "2h":    [0.285, 0.285, 0.286, 0.286, 0.286, 0.286, 0.286, 0.286, 0.286, 0.286, 0.286, 0.286, 0.286, 0.285, 0.285],
    "5h":    [0.286, 0.286, 0.287, 0.287, 0.287, 0.287, 0.287, 0.287, 0.287, 0.287, 0.287, 0.287, 0.287, 0.286, 0.286],
    "12h":   [0.285, 0.285, 0.285, 0.286, 0.286, 0.286, 0.286, 0.286, 0.286, 0.286, 0.286, 0.286, 0.285, 0.285, 0.285],
    "24h":   [0.284, 0.284, 0.284, 0.284, 0.284, 0.284, 0.284, 0.284, 0.284, 0.284, 0.284, 0.284, 0.284, 0.284, 0.284],
    "10d":   [0.275, 0.275, 0.275, 0.275, 0.275, 0.275, 0.275, 0.275, 0.275, 0.275, 0.275, 0.275, 0.275, 0.275, 0.275],
    "20d":   [0.267, 0.267, 0.266, 0.265, 0.263, 0.261, 0.259, 0.258, 0.259, 0.261, 0.263, 0.265, 0.266, 0.267, 0.267],
}

panels = [[a1, a2, a3, a4, a5],
          [b1, b2, b3, b4, b5],
          [c1, c2, c3, c4, c5],
          [d1, d2, d3, d4, d5]]


def line_style(label):
    i = LABELS.index(label)
    lw = 1.8
    if label == "90d":
        lw = 3.2
    elif i >= 12:
        lw = 2.2
    return dict(color=GROUP_COLORS[i // 4], linestyle=DASHES[i % 4], linewidth=lw,
                solid_capstyle="butt", dash_capstyle="butt")


W, H = 1195, 784
fig = plt.figure(figsize=(W / 100, H / 100), dpi=100)

col_left = [62, 277, 492, 707, 922]
col_w = 214.5
row_top = [96, 258, 433, 600]
row_h = [153, 151, 150, 152]
grid_c = "#d6d6d6"
text_c = "#404040"

for r in range(4):
    for c in range(5):
        ax = fig.add_axes([col_left[c] / W, 1 - (row_top[r] + row_h[r]) / H,
                           col_w / W, row_h[r] / H])
        data = panels[r][c]
        for label in LABELS:
            if label in data:
                ax.plot(X, data[label], **line_style(label))
        ax.set_xlim(-80, 80)
        ax.set_ylim(0.4, 0.05)
        ax.set_xticks(X_TICKS)
        ax.set_yticks(Y_TICKS)
        ax.grid(True, color=grid_c, linewidth=0.9)
        ax.set_axisbelow(True)
        for sp in ax.spines.values():
            sp.set_color(grid_c)
        ax.tick_params(length=0)
        if c == 0:
            ax.set_yticklabels(Y_TICK_LABELS, fontsize=9.5, color=text_c, family="Lato")
        else:
            ax.set_yticklabels([])
        if r == 0:
            ax.tick_params(axis="x", labeltop=True, labelbottom=False, pad=2)
            ax.set_xticklabels([str(t) for t in X_TICKS], rotation=70,
                               fontsize=9, color=text_c, family="Lato")
        else:
            ax.set_xticklabels([])

# panel tags
for tag, y in zip(ROW_TAGS, [103, 268, 438, 608]):
    fig.text(1117 / W, 1 - y / H, tag, fontsize=11, color=text_c,
             ha="center", va="center", family="Lato")

fig.text(117 / W, 1 - 168 / H, "10", fontsize=15, color="#555555",
         ha="center", va="center", family="Liberation Serif")

fig.text(541 / W, 1 - 22 / H, "Distance from emitter (cm)", fontsize=10,
         color=text_c, ha="center", va="center", family="DejaVu Sans")
fig.text(18 / W, 1 - 411 / H, "Moisture Content", rotation=90, fontsize=9.5,
         fontweight="bold", color=text_c, ha="center", va="center", family="Lato")

for title, x in zip(COLUMN_TITLES, [166, 331, 570, 806, 1025]):
    fig.text(x / W, 1 - 773 / H, title, fontsize=14.5, color="#262626",
             ha="center", va="center", family="Lato")

handles = [Line2D([0], [0], **line_style(lab)) for lab in LABELS]
for h in handles:
    h.set_linewidth(1.6)
leg = fig.legend(handles, LABELS, loc="upper left",
                 bbox_to_anchor=(1135 / W, 1 - 211 / H), fontsize=6.2,
                 handlelength=4.4, labelspacing=0.5, handletextpad=0.3,
                 borderpad=0.4, fancybox=False, framealpha=1)
leg.get_frame().set_edgecolor("#4bacc6")
leg.get_frame().set_linewidth(1.6)

fig.savefig("out.png", dpi=100)
